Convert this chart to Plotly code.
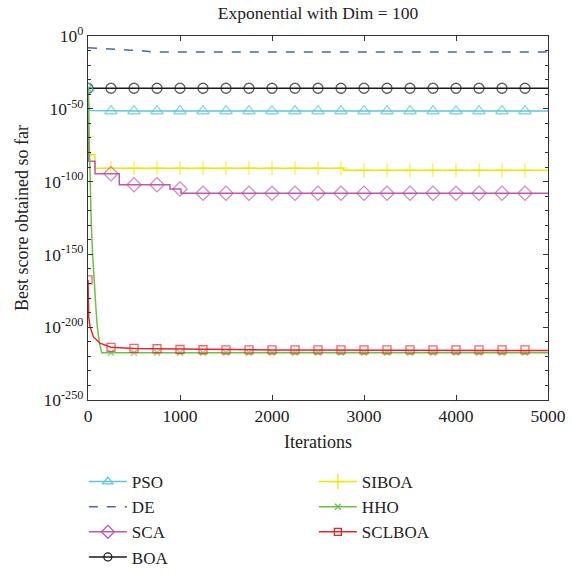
import plotly.graph_objects as go

# ---------------- data (log10 of best score) ----------------
ITER = list(range(0, 5001, 250))          # marker grid 0..5000

PSO_IT = [0, 4, 10, 20] + ITER[1:]
PSO_EXP = [-35.9, -44.0, -50.5, -51.2] + [-51.5] * 20

DE_IT = [0, 130, 240, 460, 560, 700, 5000]
DE_EXP = [-8.1, -8.8, -8.9, -9.8, -9.9, -11.0, -11.0]

SCA_IT = [0, 5, 76, 250, 340, 500, 750, 891, 1000, 1010] + ITER[5:]
SCA_EXP = [-41.0, -86.1, -94.6, -94.6, -102.2, -102.2, -102.2, -105.1, -105.1, -108.0] + [-108.0] * 16

BOA_IT = ITER
BOA_EXP = [-35.9] * 21

SIBOA_IT = [0, 3, 30, 75] + ITER[1:12] + [2776] + ITER[12:]
SIBOA_EXP = [-69.3, -80.3, -81.5, -90.8] + [-90.8] * 11 + [-92.2] + [-92.2] * 9

HHO_IT = [0, 10, 20, 35, 50, 65, 85, 101, 125, 149] + ITER[1:]
HHO_EXP = [-35.8, -68.0, -95.0, -128.0, -150.0, -167.5, -186.0, -199.6, -211.0, -217.5] + [-217.5] * 20

SCLBOA_IT = [0, 3, 8, 22, 58, 130, 185] + ITER[1:]
SCLBOA_EXP = ([-167.5, -185.0, -193.0, -199.6, -206.5, -211.0, -212.4]
              + [-213.8, -214.6, -214.8, -215.3, -215.5]
              + [-215.6] * 14 + [-216.0])

NAMES = ["PSO", "DE", "SCA", "BOA", "SIBOA", "HHO", "SCLBOA"]
YTICK_EXP = [0, -50, -100, -150, -200, -250]
XTICKS = [0, 1000, 2000, 3000, 4000, 5000]

# ---------------- styles ----------------
FONT = "Liberation Serif"
STYLE = {
    "PSO":    dict(color="#5CC8DA", symbol="triangle-up-open", size=11, lsize=9, dash="solid", shape="linear", first=0),
    "DE":     dict(color="#4A66B4", symbol=None, size=0, lsize=0, dash="dash", shape="linear", first=0),
    "SCA":    dict(color="#C056AE", symbol="diamond-open", size=11, lsize=10, dash="solid", shape="hv", first=250),
    "BOA":    dict(color="#1A1A1A", symbol="circle-open", size=10, lsize=8, dash="solid", shape="linear", first=0),
    "SIBOA":  dict(color="#F2E600", symbol="cross-thin-open", size=10, lsize=11, dash="solid", shape="hv", first=0),
    "HHO":    dict(color="#6CC04A", symbol="x-thin-open", size=6, lsize=6, dash="solid", shape="linear", first=0),
    "SCLBOA": dict(color="#EE2228", symbol="square-open", size=8, lsize=7, dash="solid", shape="linear", first=0),
}
SERIES = {
    "PSO": (PSO_IT, PSO_EXP), "DE": (DE_IT, DE_EXP), "SCA": (SCA_IT, SCA_EXP),
    "BOA": (BOA_IT, BOA_EXP), "SIBOA": (SIBOA_IT, SIBOA_EXP),
    "HHO": (HHO_IT, HHO_EXP), "SCLBOA": (SCLBOA_IT, SCLBOA_EXP),
}
MARK_SET = set(ITER[:-1])

fig = go.Figure()
order = ["DE", "BOA", "PSO", "SIBOA", "SCA", "HHO", "SCLBOA"]
for name in order:
    it, ex = SERIES[name]
    st = STYLE[name]
    ys = [10.0 ** e for e in ex]
    if st["symbol"]:
        sizes = [st["size"] if (i in MARK_SET and i >= st["first"]) else 0 for i in it]
        fig.add_trace(go.Scatter(
            x=it, y=ys, mode="lines+markers", showlegend=False, hoverinfo="skip",
            line=dict(color=st["color"], width=1.5, dash=st["dash"], shape=st["shape"]),
            marker=dict(symbol=st["symbol"], size=sizes, color=st["color"],
                        line=dict(color=st["color"], width=1.3)),
        ))
    else:
        fig.add_trace(go.Scatter(
            x=it, y=ys, mode="lines", showlegend=False, hoverinfo="skip",
            line=dict(color=st["color"], width=1.5, dash=st["dash"], shape=st["shape"]),
        ))

# legend-only traces
for k, name in enumerate(NAMES):
    st = STYLE[name]
    legend_id = "legend" if k < 4 else "legend2"
    if st["symbol"]:
        fig.add_trace(go.Scatter(
            x=[None], y=[None], mode="lines+markers", name=name, legend=legend_id,
            line=dict(color=st["color"], width=1.5, dash=st["dash"]),
            marker=dict(symbol=st["symbol"], size=st["lsize"], color=st["color"],
                        line=dict(color=st["color"], width=1.3)),
        ))
    else:
        fig.add_trace(go.Scatter(
            x=[None], y=[None], mode="lines", name=name, legend=legend_id,
            line=dict(color=st["color"], width=1.5, dash=st["dash"]),
        ))

axis_common = dict(
    showline=True, linecolor="#333333", linewidth=1.2, mirror="ticks",
    ticks="inside", ticklen=5, tickcolor="#333333", tickwidth=1,
    showgrid=False, zeroline=False, automargin=False,
    tickfont=dict(family=FONT, size=17.5, color="#222222"),
)

fig.update_layout(
    width=572, height=573,
    margin=dict(l=88, r=24, t=36, b=173, autoexpand=False),
    paper_bgcolor="white", plot_bgcolor="white",
    font=dict(family=FONT, size=17, color="#222222"),
    title=dict(text="Exponential with Dim = 100", x=0.5, xref="paper",
               y=1 - 13 / 573, yref="container", yanchor="middle",
               font=dict(family=FONT, size=17.5, color="#222222")),
    xaxis=dict(range=[0, 5000], tickvals=XTICKS, ticktext=[str(v) for v in XTICKS],
               title=dict(text="Iterations", font=dict(family=FONT, size=18), standoff=10),
               **axis_common),
    yaxis=dict(type="log", range=[-250, 0],
               tickvals=[10.0 ** e for e in YTICK_EXP],
               ticktext=[f"10<sup>{e}</sup>" for e in YTICK_EXP],
               minor=dict(tickvals=[10.0 ** e for e in range(-10, -250, -10) if e % 50 != 0],
                          ticks="inside", ticklen=3, tickcolor="#333333"),
               title=dict(text="Best score obtained so far", font=dict(family=FONT, size=18), standoff=10),
               **axis_common),
    legend=dict(x=-0.009, y=-0.176, xanchor="left", yanchor="top", orientation="v",
                bgcolor="rgba(0,0,0,0)", font=dict(family=FONT, size=17), tracegroupgap=0,
                itemwidth=38),
    legend2=dict(x=0.491, y=-0.176, xanchor="left", yanchor="top", orientation="v",
                 bgcolor="rgba(0,0,0,0)", font=dict(family=FONT, size=17), tracegroupgap=0,
                 itemwidth=38),
)

fig.write_html("out.html")
